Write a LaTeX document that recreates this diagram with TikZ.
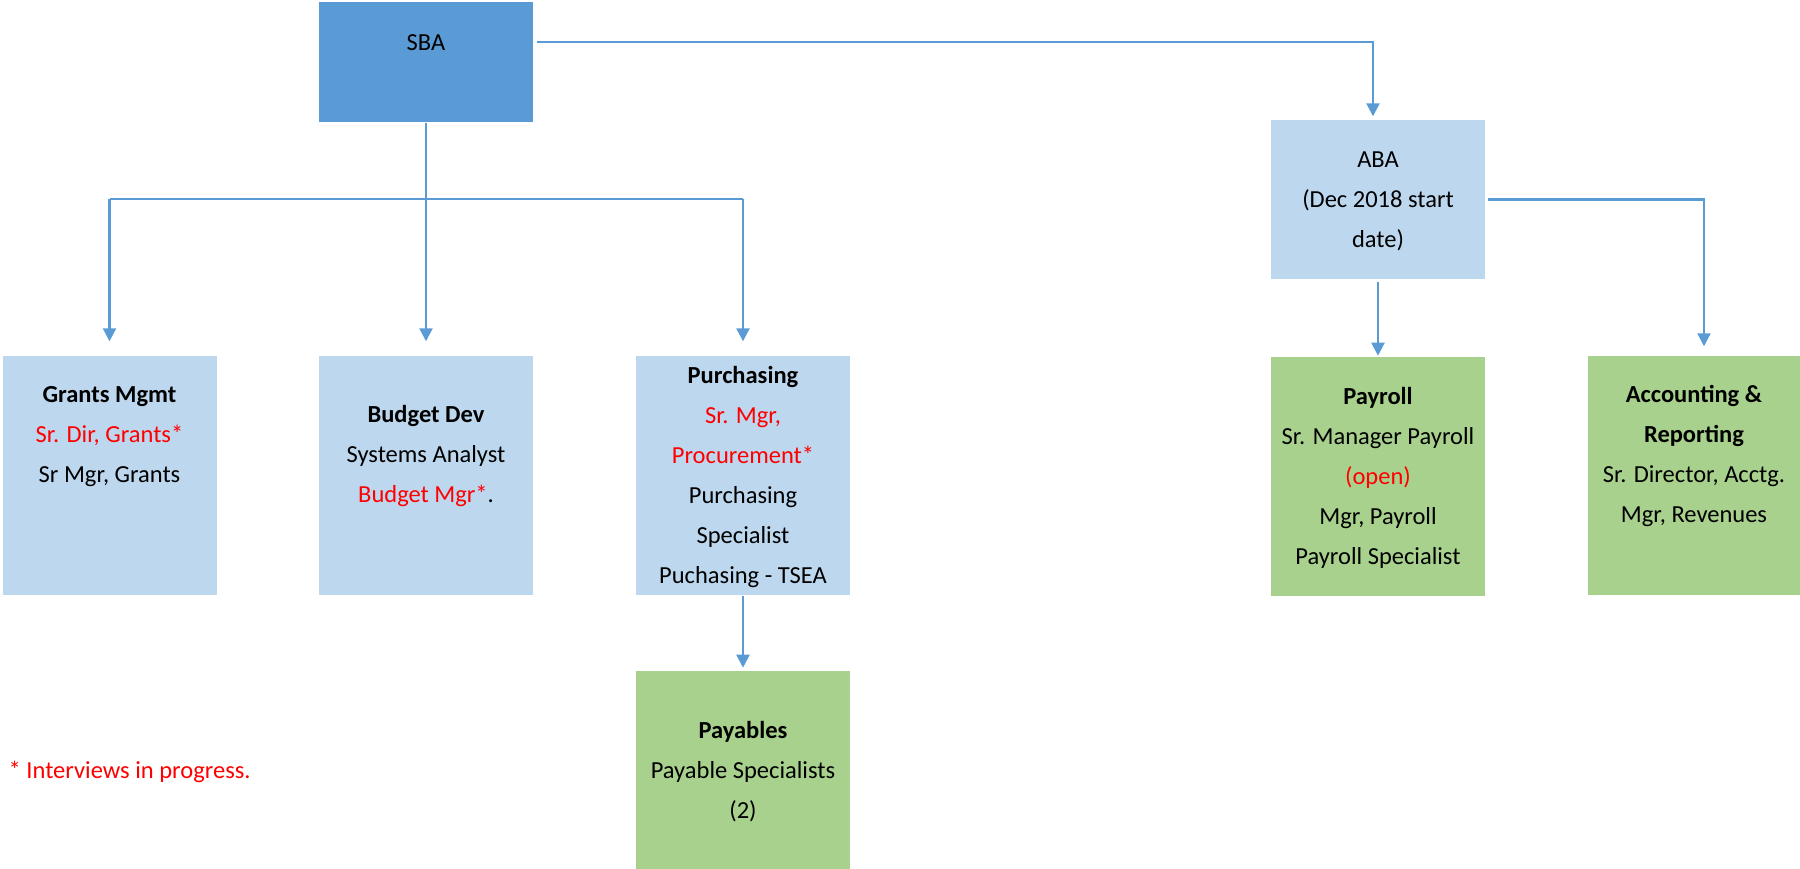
\documentclass[tikz,border=0pt]{standalone}
\usepackage{fontspec}
\setmainfont{Carlito}
\definecolor{office}  {HTML}{5B9BD5}
\definecolor{pale}    {HTML}{BDD7EE}
\definecolor{leaf}    {HTML}{A9D18E}
\definecolor{alert}   {HTML}{FF0000}
\usetikzlibrary{positioning,arrows.meta}
\tikzset{
  topbox/.style={rectangle,fill=office,inner sep=0pt,
                 minimum width=2.14cm,minimum height=1.20cm},
  deptbox/.style={rectangle,fill=pale,inner sep=0pt,
                  minimum width=2.14cm,minimum height=2.39cm},
  teambox/.style={deptbox,fill=leaf},
  boxtext/.style={inner sep=0pt,align=center,text=black,
                  font=\fontsize{6.97}{11.4}\selectfont},
  link/.style={draw=office,line width=0.6pt},
  flow/.style={link,-{Triangle[width=3.7pt,length=3.7pt]}}
}

\begin{document}
\begin{tikzpicture}
  \useasboundingbox (0,0) rectangle (18,-8.69);

  % boxes
  \node[topbox] (sba) at (4.26,-0.62) {};
  \node[deptbox,minimum height=1.59cm] (aba) at (13.78,-1.995) {};
  \node[deptbox] (grants) at (1.095,-4.755) {};
  \node[deptbox] (budget) at (4.26,-4.755) {};
  \node[deptbox] (purch)  at (7.43,-4.755) {};
  \node[teambox,below=0.77cm of aba] (payroll) {};
  \node[teambox,minimum width=2.12cm] (acct) at (16.94,-4.755) {};
  \node[teambox,minimum height=1.99cm,below=0.75cm of purch] (payables) {};

  % texts
  \node[boxtext] (sbaT) at ([yshift=-0.41cm]sba.north) {SBA};
  \node[boxtext] (abaT) at ([yshift=-0.82cm]aba.north)
    {ABA\\(Dec 2018 start\\date)};
  \node[boxtext] (grantsT) at ([yshift=-0.81cm]grants.north)
    {\textbf{Grants Mgmt}\\\textcolor{alert}{Sr. Dir, Grants*}\\Sr Mgr, Grants};
  \node[boxtext] (budgetT) at ([yshift=-1.01cm]budget.north)
    {\textbf{Budget Dev}\\Systems Analyst\\\textcolor{alert}{Budget Mgr*}.};
  \node[boxtext] (purchT) at ([yshift=-1.22cm]purch.north)
    {\textbf{Purchasing}\\\textcolor{alert}{Sr. Mgr,}\\\textcolor{alert}{Procurement*}\\
     Purchasing\\Specialist\\Puchasing - TSEA};
  \node[boxtext] (payrollT) at ([yshift=-1.21cm]payroll.north)
    {\textbf{Payroll}\\Sr. Manager Payroll\\\textcolor{alert}{(open)}\\Mgr, Payroll\\
     Payroll Specialist};
  \node[boxtext] (acctT) at ([yshift=-1.01cm]acct.north)
    {\textbf{Accounting \&}\\\textbf{Reporting}\\Sr. Director, Acctg.\\Mgr, Revenues};
  \node[boxtext] (payablesT) at ([yshift=-1.01cm]payables.north)
    {\textbf{Payables}\\Payable Specialists\\(2)};

  \node[boxtext,anchor=west,text=alert] (note) at (0.08,-7.72)
    {* Interviews in progress.};

  % connectors
  \coordinate (bus) at (0,-1.99);
  \draw[flow,shorten >=0.03cm] ([xshift=0.03cm]sbaT -| sba.east)
    -| ([xshift=-0.05cm]aba.north);
  \draw[link] (sba.south) -- (sba.south |- bus);
  \draw[link] (bus -| grants) -- (bus -| purch);
  \foreach \unit in {grants,budget,purch}
    \draw[flow,shorten >=0.14cm] (bus -| \unit) -- (\unit);
  \draw[flow,shorten <=0.02cm,shorten >=0.01cm] (aba) -- (payroll);
  \draw[flow,shorten >=0.09cm] ([xshift=0.02cm]aba.east)
    -| ([xshift=0.10cm]acct.north);
  \draw[flow,shorten >=0.03cm] (purch) -- (payables);
\end{tikzpicture}
\end{document}
